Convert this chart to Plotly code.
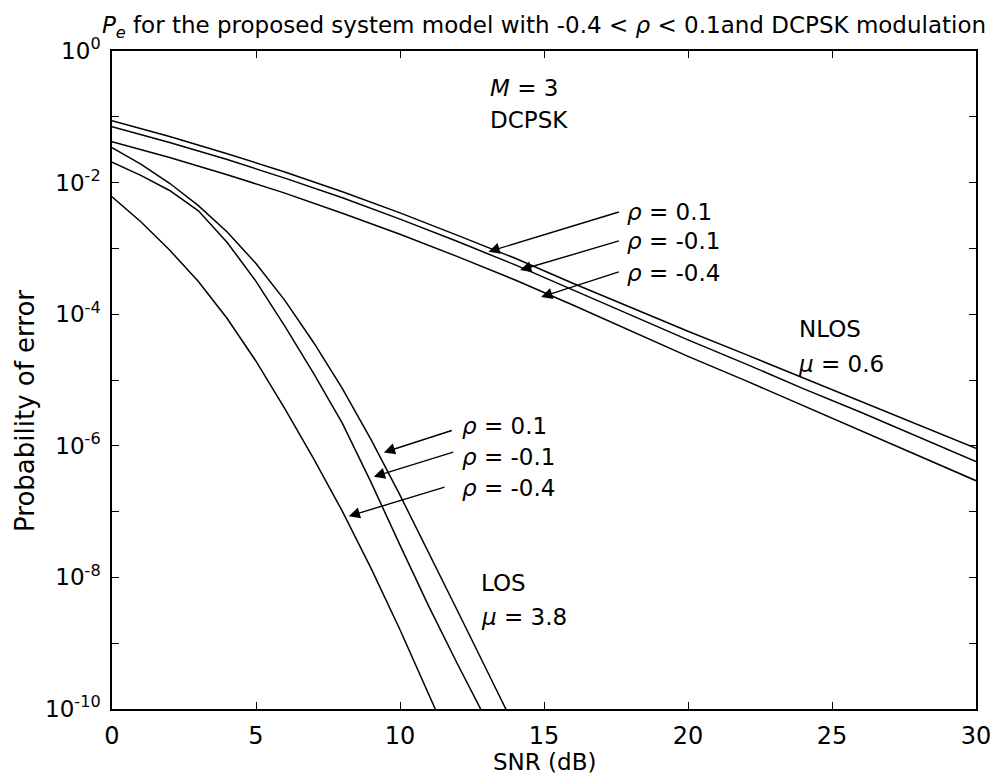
import plotly.graph_objects as go

# SNR grid (dB)
snr_nlos = [0, 2, 4, 6, 8, 10, 12, 14, 16, 18, 20, 22, 24, 26, 28, 30]
snr_los = [0, 1, 2, 3, 4, 5, 6, 7, 8, 9, 10, 11, 12, 13, 14]

# NLOS, mu = 0.6
pe_nlos_p01 = [8.71e-2, 5.01e-2, 2.75e-2, 1.45e-2, 7.24e-3, 3.47e-3, 1.58e-3, 7.08e-4,
               2.95e-4, 1.26e-4, 5.50e-5, 2.45e-5, 1.07e-5, 4.79e-6, 2.09e-6, 9.12e-7]
pe_nlos_m01 = [7.08e-2, 4.07e-2, 2.24e-2, 1.17e-2, 5.89e-3, 2.79e-3, 1.27e-3, 5.62e-4,
               2.34e-4, 9.66e-5, 4.07e-5, 1.76e-5, 7.41e-6, 3.24e-6, 1.36e-6, 5.75e-7]
pe_nlos_m04 = [4.17e-2, 2.40e-2, 1.32e-2, 6.92e-3, 3.43e-3, 1.64e-3, 7.50e-4, 3.31e-4,
               1.38e-4, 5.56e-5, 2.29e-5, 9.77e-6, 4.07e-6, 1.72e-6, 7.16e-7, 2.95e-7]

# LOS, mu = 3.8
pe_los_p01 = [3.39e-2, 1.91e-2, 9.77e-3, 4.47e-3, 1.78e-3, 5.89e-4, 1.62e-4, 3.72e-5,
              7.41e-6, 1.23e-6, 1.78e-7, 2.40e-8, 3.09e-9, 3.98e-10, 5.13e-11]
pe_los_m01 = [2.04e-2, 1.29e-2, 7.59e-3, 3.72e-3, 1.23e-3, 3.16e-4, 6.61e-5, 1.26e-5,
              2.19e-6, 2.75e-7, 3.09e-8, 3.63e-9, 4.79e-10, 6.76e-11]
pe_los_m04 = [6.10e-3, 2.54e-3, 9.44e-4, 3.13e-4, 8.61e-5, 1.93e-5, 3.67e-6, 6.38e-7,
              1.01e-7, 1.36e-8, 1.60e-9, 1.72e-10, 1.72e-11]

xtick_vals = [0, 5, 10, 15, 20, 25, 30]
ytick_vals = [1, 1e-1, 1e-2, 1e-3, 1e-4, 1e-5, 1e-6, 1e-7, 1e-8, 1e-9, 1e-10]
ytick_text = ["10<sup>0</sup>", "", "10<sup>-2</sup>", "", "10<sup>-4</sup>", "",
              "10<sup>-6</sup>", "", "10<sup>-8</sup>", "", "10<sup>-10</sup>"]

FONT = "DejaVu Sans, Liberation Sans, sans-serif"
TXT = dict(family=FONT, size=23, color="black")

fig = go.Figure()
series = [
    (snr_nlos, pe_nlos_p01), (snr_nlos, pe_nlos_m01), (snr_nlos, pe_nlos_m04),
    (snr_los, pe_los_p01), (snr_los[:14], pe_los_m01), (snr_los[:13], pe_los_m04),
]
for xs, ys in series:
    fig.add_trace(go.Scatter(x=xs, y=ys, mode="lines",
                             line=dict(color="black", width=1.5), showlegend=False))

# text labels (x in dB, y in log10 units)
labels = [
    (13.05, -0.56, "<i>M</i> = 3"),
    (13.05, -1.05, "DCPSK"),
    (17.8, -2.45, "<i>ρ</i> = 0.1"),
    (17.8, -2.89, "<i>ρ</i> = -0.1"),
    (17.8, -3.37, "<i>ρ</i> = -0.4"),
    (23.8, -4.22, "NLOS"),
    (23.75, -4.76, "<i>μ</i> = 0.6"),
    (12.1, -5.70, "<i>ρ</i> = 0.1"),
    (12.1, -6.17, "<i>ρ</i> = -0.1"),
    (12.1, -6.64, "<i>ρ</i> = -0.4"),
    (12.75, -8.08, "LOS"),
    (12.75, -8.60, "<i>μ</i> = 3.8"),
]
for x, y, t in labels:
    fig.add_annotation(x=x, y=y, text=t, showarrow=False, xanchor="left",
                       yanchor="middle", font=TXT)

# arrows: (head x, head y, tail x, tail y)
arrows = [
    (13.07, -3.05, 17.65, -2.44),
    (14.17, -3.33, 17.65, -2.88),
    (14.9, -3.74, 17.65, -3.35),
    (9.44, -6.10, 11.85, -5.76),
    (9.09, -6.47, 11.9, -6.09),
    (8.22, -7.07, 11.6, -6.62),
]
for hx, hy, tx, ty in arrows:
    fig.add_annotation(x=hx, y=hy, ax=tx, ay=ty, xref="x", yref="y", axref="x", ayref="y",
                       text="", showarrow=True, arrowhead=2, arrowsize=1.6,
                       arrowwidth=1.4, arrowcolor="black")

# axis titles
fig.add_annotation(x=0.5, y=0, xref="paper", yref="paper", text="SNR (dB)",
                   showarrow=False, yanchor="middle", yshift=-53, font=TXT)
fig.add_annotation(x=0, y=0.453, xref="paper", yref="paper", text="Probability of error",
                   showarrow=False, textangle=-90, xanchor="center", xshift=-87,
                   font=dict(family=FONT, size=26, color="black"))

# the page body adds an 8px margin, so the figure is shifted by it
fig.update_layout(
    width=995, height=770,
    margin=dict(l=104, r=23, t=43, b=69),
    paper_bgcolor="white", plot_bgcolor="white",
    font=TXT,
    title=dict(text="<i>P</i><sub><i>e</i></sub> for the proposed system model with -0.4 &lt; <i>ρ</i> &lt; 0.1and DCPSK modulation",
               x=0.5, xref="paper", xanchor="center", y=1 - 17 / 770, yref="container",
               yanchor="middle", font=dict(family=FONT, size=23, color="black")),
    xaxis=dict(range=[0, 30], tickvals=xtick_vals, ticks="inside",
               ticklen=7, tickwidth=1, tickcolor="black", showline=True, linecolor="black",
               linewidth=1.5, mirror="ticks", showgrid=False, zeroline=False,
               ticklabelstandoff=4, tickfont=dict(family=FONT, size=24)),
    yaxis=dict(type="log", range=[-10, 0], tickvals=ytick_vals, ticktext=ytick_text,
               ticks="inside", ticklen=7, tickwidth=1, tickcolor="black", showline=True,
               linecolor="black", linewidth=1.5, mirror="ticks", showgrid=False,
               zeroline=False, ticklabelstandoff=5, tickfont=dict(family=FONT, size=23)),
)

fig.write_html("out.html")
